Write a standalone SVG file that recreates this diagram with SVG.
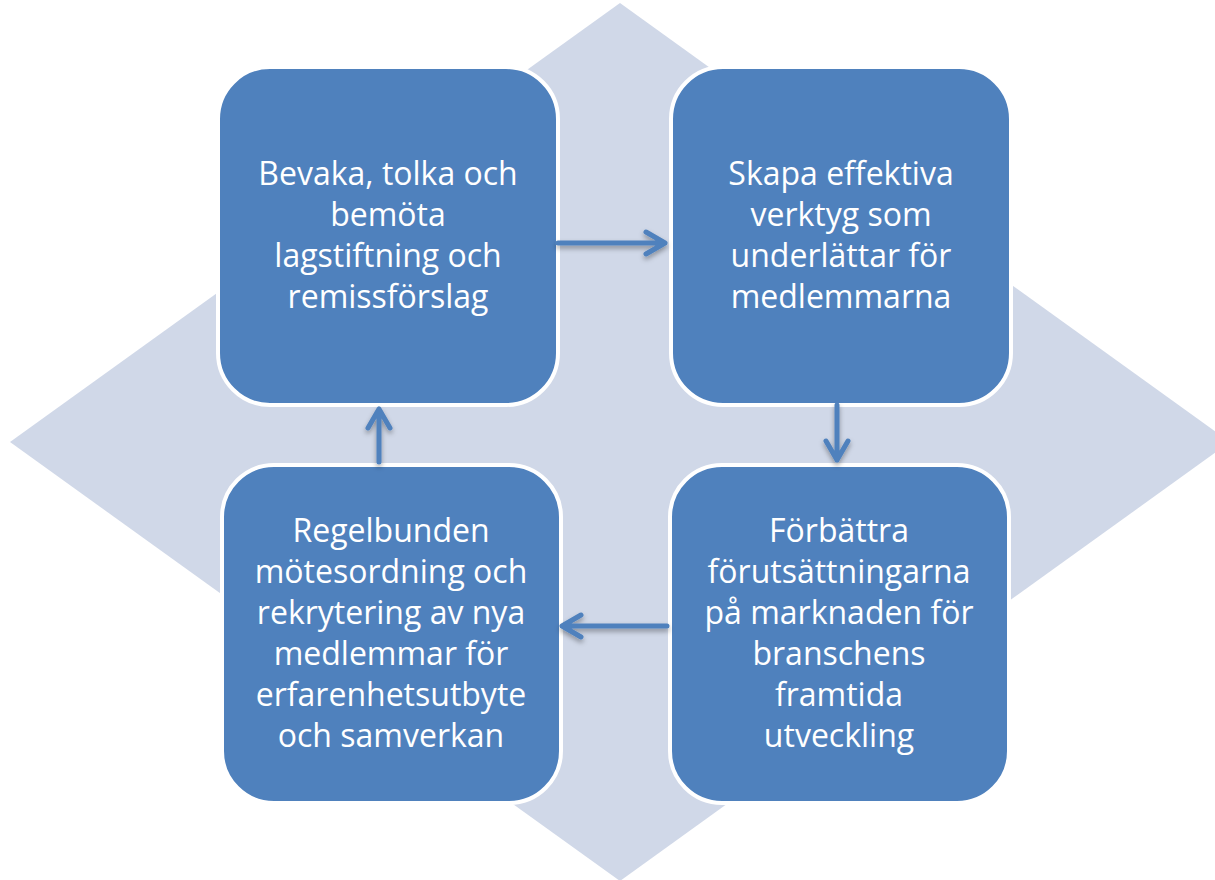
<svg xmlns="http://www.w3.org/2000/svg" width="1215" height="880" viewBox="0 0 1215 880">
<defs>
<style>
.bg{fill:#D0D8E8}
.box{fill:#4F81BD;stroke:#FFFFFF;stroke-width:4}
.t{font-family:"Open Sans","Liberation Sans",sans-serif;font-size:32px;fill:#FFFFFF;text-anchor:middle}
.arr{fill:none;stroke:#4F81BD;stroke-width:5;stroke-linecap:round;stroke-linejoin:round}
</style>
<filter id="sh" x="-50%" y="-50%" width="200%" height="200%">
<feDropShadow dx="0" dy="3" stdDeviation="2.5" flood-color="#000" flood-opacity="0.35"/>
</filter>
</defs>
<rect width="1215" height="880" fill="#FFFFFF"/>
<polygon class="bg" points="620,3 1230,442 620,881 10,442"/>
<g id="node-1">
<rect class="box" x="218" y="67" width="340" height="338" rx="52"/>
<text class="t"><tspan x="388" y="185">Bevaka, tolka och</tspan><tspan x="388" y="226">bemöta</tspan><tspan x="388" y="267">lagstiftning och</tspan><tspan x="388" y="308">remissförslag</tspan></text>
</g>
<g id="node-2">
<rect class="box" x="671" y="67" width="340" height="338" rx="52"/>
<text class="t"><tspan x="841" y="185">Skapa effektiva</tspan><tspan x="841" y="226">verktyg som</tspan><tspan x="841" y="267">underlättar för</tspan><tspan x="841" y="308">medlemmarna</tspan></text>
</g>
<g id="node-3">
<rect class="box" x="670" y="465" width="339" height="338" rx="52"/>
<text class="t"><tspan x="839" y="542">Förbättra</tspan><tspan x="839" y="583">förutsättningarna</tspan><tspan x="839" y="624">på marknaden för</tspan><tspan x="839" y="665">branschens</tspan><tspan x="839" y="706">framtida</tspan><tspan x="839" y="747">utveckling</tspan></text>
</g>
<g id="node-4">
<rect class="box" x="222" y="465" width="339" height="338" rx="52"/>
<text class="t"><tspan x="391" y="542">Regelbunden</tspan><tspan x="391" y="583">mötesordning och</tspan><tspan x="391" y="624">rekrytering av nya</tspan><tspan x="391" y="665">medlemmar för</tspan><tspan x="391" y="706">erfarenhetsutbyte</tspan><tspan x="391" y="747">och samverkan</tspan></text>
</g>
<g id="connectors" filter="url(#sh)">
<path class="arr" d="M558,243 H665 M646,232 L665,243 L646,254"/>
<path class="arr" d="M837,405 V460 M826,441 L837,460 L848,441"/>
<path class="arr" d="M667,626 H562 M581,615 L562,626 L581,637"/>
<path class="arr" d="M379,462 V409 M368,428 L379,409 L390,428"/>
</g>
</svg>
